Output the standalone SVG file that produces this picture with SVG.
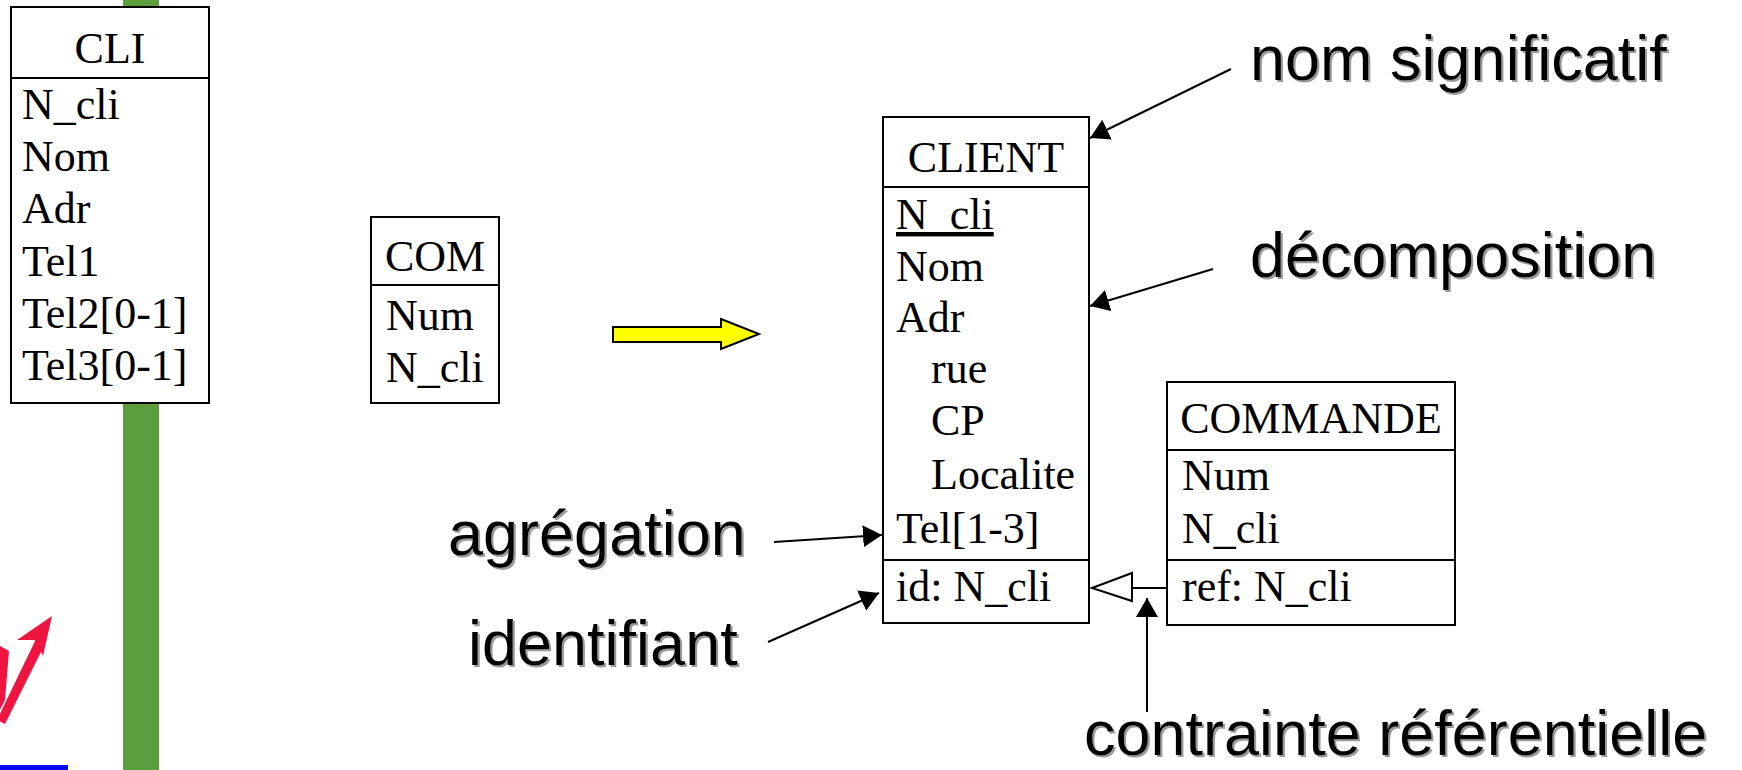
<svg xmlns="http://www.w3.org/2000/svg" width="1742" height="770" viewBox="0 0 1742 770">
<style>
.box{fill:#fff;stroke:#000;stroke-width:2}
.sep{stroke:#000;stroke-width:2}
.t{font-family:"Liberation Serif","Times New Roman",serif;font-size:44px;fill:#000}
.c{text-anchor:middle}
.lbl{font-family:"Liberation Sans",Arial,sans-serif;font-size:63px;fill:#000;filter:url(#sh)}
.con{stroke:#000;stroke-width:2;fill:none}
</style>
<defs>
<filter id="sh" x="-5%" y="-20%" width="115%" height="150%">
<feDropShadow dx="2" dy="2" stdDeviation="0.6" flood-color="#9a9a9a" flood-opacity="1"/>
</filter>
<marker id="ah" markerUnits="userSpaceOnUse" markerWidth="20" markerHeight="22" refX="19" refY="11" orient="auto">
<path d="M0,0 L19,11 L0,22 z" fill="#000"/>
</marker>
</defs>

<g id="decor">
<rect x="123" y="0" width="36" height="770" fill="#5a9e3e"/>
<rect x="0" y="765" width="68" height="5" fill="#0000ff"/>
<g fill="#ee1540">
<polygon points="0,646 9,651 5,700 0,710"/>
<polygon points="-3,720 5,724 45,644 37,637"/>
<polygon points="52,616 17,640 35,640 43,656"/>
</g>
<polygon points="613,327 721,327 721,319 759,334 721,349 721,342 613,342" fill="#ffff00" stroke="#000" stroke-width="2"/>
</g>

<g id="CLI">
<rect class="box" x="11" y="7" width="198" height="396"/>
<line class="sep" x1="11" y1="78" x2="209" y2="78"/>
<text class="t c" x="110" y="63">CLI</text>
<text class="t" x="22" y="119">N_cli</text>
<text class="t" x="22" y="171">Nom</text>
<text class="t" x="22" y="223">Adr</text>
<text class="t" x="22" y="276">Tel1</text>
<text class="t" x="22" y="328">Tel2[0-1]</text>
<text class="t" x="22" y="380">Tel3[0-1]</text>
</g>

<g id="COM">
<rect class="box" x="371" y="217" width="128" height="186"/>
<line class="sep" x1="371" y1="285" x2="499" y2="285"/>
<text class="t c" x="435" y="271">COM</text>
<text class="t" x="386" y="330">Num</text>
<text class="t" x="386" y="382">N_cli</text>
</g>

<g id="CLIENT">
<rect class="box" x="883" y="117" width="206" height="506"/>
<line class="sep" x1="883" y1="187" x2="1089" y2="187"/>
<line class="sep" x1="883" y1="560" x2="1089" y2="560"/>
<text class="t c" x="986" y="172">CLIENT</text>
<text class="t" x="896" y="229" text-decoration="underline">N_cli</text>
<text class="t" x="896" y="281">Nom</text>
<text class="t" x="896" y="332">Adr</text>
<text class="t" x="931" y="383">rue</text>
<text class="t" x="931" y="435">CP</text>
<text class="t" x="931" y="489">Localite</text>
<text class="t" x="896" y="543">Tel[1-3]</text>
<text class="t" x="896" y="601">id: N_cli</text>
</g>

<g id="COMMANDE">
<rect class="box" x="1167" y="382" width="288" height="243"/>
<line class="sep" x1="1167" y1="450" x2="1455" y2="450"/>
<line class="sep" x1="1167" y1="560" x2="1455" y2="560"/>
<text class="t c" x="1311" y="433">COMMANDE</text>
<text class="t" x="1182" y="490">Num</text>
<text class="t" x="1182" y="543">N_cli</text>
<text class="t" x="1182" y="601">ref: N_cli</text>
</g>

<g id="labels">
<text class="lbl" x="1250" y="80">nom significatif</text>
<text class="lbl" x="1250" y="277">décomposition</text>
<text class="lbl" x="448" y="555">agrégation</text>
<text class="lbl" x="468" y="665">identifiant</text>
<text class="lbl" x="1084" y="755" font-size="64">contrainte référentielle</text>
</g>

<g id="connectors">
<line class="con" x1="1231" y1="69" x2="1090" y2="138" marker-end="url(#ah)"/>
<line class="con" x1="1213" y1="269" x2="1090" y2="306" marker-end="url(#ah)"/>
<line class="con" x1="774" y1="542" x2="882" y2="535" marker-end="url(#ah)"/>
<line class="con" x1="768" y1="642" x2="879" y2="593" marker-end="url(#ah)"/>
<line class="con" x1="1147" y1="712" x2="1147" y2="598" marker-end="url(#ah)"/>
<line class="con" x1="1132" y1="588" x2="1167" y2="588"/>
<polygon points="1092,588 1132,573 1132,601" fill="#fff" stroke="#000" stroke-width="2"/>
</g>
</svg>
